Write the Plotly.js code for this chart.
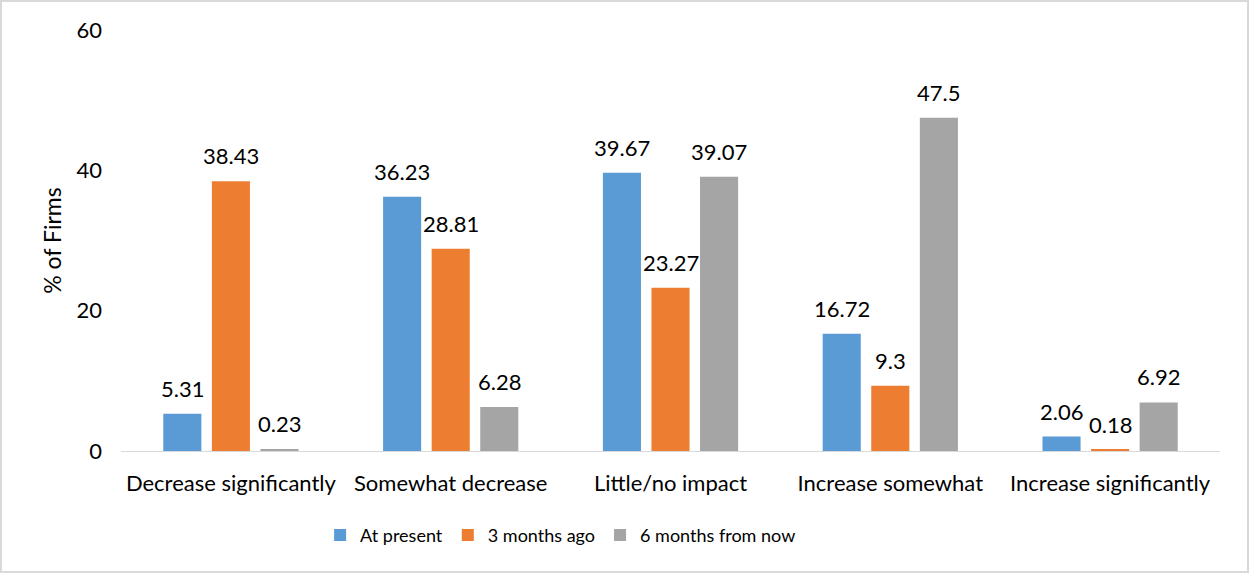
<!DOCTYPE html>
<html>
<head>
<meta charset="utf-8">
<script src="https://cdn.plot.ly/plotly-3.0.1.min.js"></script>
<style>
  html, body { margin: 0; padding: 0; background: #fff; }
  #wrap { position: relative; width: 1249px; height: 573px; }
  #chart { width: 1249px; height: 573px; }
  #frame { position: absolute; left: 0; top: 0; width: 1249px; height: 573px;
           box-sizing: border-box; border: 2px solid #d9d9d9; pointer-events: none; }
</style>
</head>
<body>
<div id="wrap">
  <div id="chart"></div>
  <div id="frame"></div>
</div>
<script>
// Expected change in firm activity, share of firms per response
const categories = ["Decrease significantly", "Somewhat decrease", "Little/no impact", "Increase somewhat", "Increase significantly"];
const seriesNames = ["At present", "3 months ago", "6 months from now"];
const atPresent = [5.31, 36.23, 39.67, 16.72, 2.06];
const threeMonthsAgo = [38.43, 28.81, 23.27, 9.3, 0.18];
const sixMonthsFromNow = [0.23, 6.28, 39.07, 47.5, 6.92];
const yTicks = [0, 20, 40, 60];

const colors = ["#5B9BD5", "#ED7D31", "#A5A5A5"];
const FONT = "Lato, 'Open Sans', sans-serif";
const BARGAP = 0.337;
const series = [atPresent, threeMonthsAgo, sixMonthsFromNow];

const traces = series.map((vals, i) => ({
  type: "bar",
  name: seriesNames[i],
  x: categories,
  y: vals,
  marker: { color: colors[i] },
  hoverinfo: "x+y+name"
}));

// Value labels sitting above each bar of the group
const slot = (1 - BARGAP) / series.length;
const annotations = [];
series.forEach((vals, i) => {
  vals.forEach((v, j) => {
    annotations.push({
      xref: "x", yref: "y",
      x: j + (i - (series.length - 1) / 2) * slot,
      y: v,
      text: String(v),
      showarrow: false,
      xanchor: "center",
      yanchor: "bottom",
      yshift: 10,
      font: { family: FONT, size: 22, color: "#000" }
    });
  });
});

const layout = {
  width: 1249,
  height: 573,
  margin: { l: 121, r: 29, t: 30, b: 122 },
  paper_bgcolor: "#fff",
  plot_bgcolor: "#fff",
  font: { family: FONT, color: "#000" },
  barmode: "group",
  bargap: BARGAP,
  bargroupgap: 0.216,
  showlegend: true,
  legend: {
    orientation: "h",
    x: 0.4, xanchor: "center",
    y: -0.2, yanchor: "middle",
    font: { family: FONT, size: 18, color: "#000" },
    traceorder: "normal"
  },
  annotations: annotations,
  xaxis: {
    type: "category",
    showgrid: false,
    showline: true,
    linecolor: "#d9d9d9",
    linewidth: 1,
    ticks: "",
    tickfont: { family: FONT, size: 22, color: "#000" },
    ticklabelstandoff: 13,
    zeroline: false
  },
  yaxis: {
    range: [0, 60],
    tickvals: yTicks,
    ticktext: yTicks.map(String),
    showgrid: false,
    showline: false,
    zeroline: false,
    ticks: "",
    tickfont: { family: FONT, size: 22, color: "#000" },
    ticklabelstandoff: 18,
    title: { text: "% of Firms", font: { family: FONT, size: 23, color: "#000" }, standoff: 8 }
  }
};

Plotly.newPlot("chart", traces, layout, { displayModeBar: false });
</script>
</body>
</html>
